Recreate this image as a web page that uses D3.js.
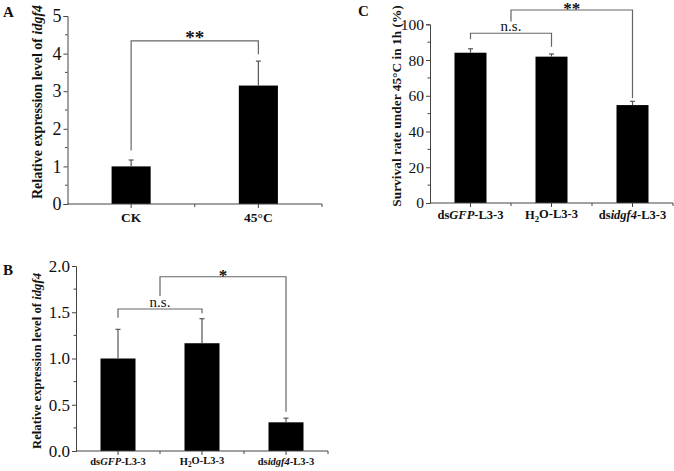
<!DOCTYPE html>
<html>
<head>
<meta charset="utf-8">
<script src="https://cdn.jsdelivr.net/npm/d3@7"></script>
<style>
  html, body { margin: 0; padding: 0; background: #fff; }
  svg { display: block; }
  text { font-family: "Liberation Serif", "Times New Roman", serif; fill: #111; }
</style>
</head>
<body>
<svg id="fig" width="674" height="471"></svg>
<script>
// ---- data ----
// panel A : idgf4 expression, control vs heat
var catsA   = ["CK", "45°C"];
var valsA   = [1.00, 3.15];
var errsA   = [0.17, 0.65];
var ticksA  = [0, 1, 2, 3, 4, 5];

// panel B : idgf4 expression after RNAi
var catsB   = ["dsGFP-L3-3", "H2O-L3-3", "dsidgf4-L3-3"];
var valsB   = [1.00, 1.165, 0.31];
var errsB   = [0.315, 0.265, 0.045];
var ticksB  = [0, 0.5, 1.0, 1.5, 2.0];

// panel C : survival at 45°C
var catsC   = ["dsGFP-L3-3", "H2O-L3-3", "dsidgf4-L3-3"];
var valsC   = [84.1, 81.9, 54.8];
var errsC   = [2.2, 1.5, 2.1];
var ticksC  = [0, 20, 40, 60, 80, 100];

// rich labels (segments: text, style)
var labelsA = [[["CK", ""]], [["45°C", ""]]];
var labelsRNAi = [
	[["ds", ""], ["GFP", "i"], ["-L3-3", ""]],
	[["H", ""], ["2", "sub"], ["O-L3-3", ""]],
	[["ds", ""], ["idgf4", "i"], ["-L3-3", ""]]
];
var yTitleExpr = [["Relative expression level of ", ""], ["idgf4", "i"]];
var yTitleSurv = [["Survival rate under 45°C in 1h (%)", ""]];

// significance brackets: from/to are category positions, levels in data units
var sigA = [{ from: 0, to: 1, level: 4.34, legL: 1.42, legR: 3.98, label: "**" }];
var sigB = [
	{ from: 0, to: 1, level: 1.535, legL: 1.44, legR: 1.49, label: "n.s." },
	{ from: 0.5, to: 2, level: 1.884, legL: 1.676, legR: 0.425, label: "*" }
];
var sigC = [
	{ from: 0, to: 1, level: 95.0, legL: 91.6, legR: 87.5, label: "n.s." },
	{ from: 0.5, to: 2, level: 108, legL: 101.5, legR: 58.6, label: "**" }
];

var svg = d3.select("#fig");

//Write a label made of styled segments into a text element
function richText(textSel, segs) {
	segs.forEach(function (s) {
		var t = textSel.append("tspan").text(s[0]);
		if (s[1] === "i") t.attr("font-style", "italic");
		if (s[1] === "sub") t.attr("font-size", "0.7em").attr("dy", "0.3em");
	});
	// undo subscript shift for following segment
	textSel.selectAll("tspan").each(function (d, i, n) {
		if (i > 0 && segs[i - 1][1] === "sub") d3.select(this).attr("dy", "-0.3em");
	});
}

/*=================================
	ONE PANEL
**===============================*/
function drawPanel(o) {
	var g = svg.append("g");

	var x = d3.scaleBand().domain(o.cats).range([o.x0, o.x1]).padding(0);
	var y = d3.scaleLinear().domain(o.yDomain).range([o.yBase, o.yTop]);
	var step = x.step();
	var bw = step * o.barFrac;
	var cx = function (i) { return o.x0 + step * (i + 0.5); };

	// bars
	g.selectAll("rect.bar").data(o.vals).enter().append("rect")
		.attr("x", function (d, i) { return cx(i) - bw / 2; })
		.attr("y", function (d) { return y(d); })
		.attr("width", bw)
		.attr("height", function (d) { return y(0) - y(d); })
		.attr("fill", "#000");

	// error bars (upper only)
	var eb = g.selectAll("g.err").data(o.vals).enter().append("g")
		.attr("stroke", "#555").attr("stroke-width", 1.2);
	eb.append("line")
		.attr("x1", function (d, i) { return cx(i); })
		.attr("x2", function (d, i) { return cx(i); })
		.attr("y1", function (d) { return y(d); })
		.attr("y2", function (d, i) { return y(d + o.errs[i]); });
	eb.append("line")
		.attr("x1", function (d, i) { return cx(i) - o.cap; })
		.attr("x2", function (d, i) { return cx(i) + o.cap; })
		.attr("y1", function (d, i) { return y(d + o.errs[i]); })
		.attr("y2", function (d, i) { return y(d + o.errs[i]); });

	// y axis
	var yAxis = d3.axisLeft(y).tickValues(o.ticks).tickSize(4).tickPadding(2)
		.tickFormat(o.fmt);
	var ya = g.append("g").attr("transform", "translate(" + o.x0 + ",0)").call(yAxis);
	ya.attr("font-family", null);
	ya.select(".domain").attr("stroke", "#444");
	ya.selectAll(".tick line").attr("stroke", "#444");
	ya.selectAll(".tick text")
		.attr("font-size", o.tickFont).attr("fill", "#222");
	// minor ticks
	g.selectAll("line.minor").data(o.minor).enter().append("line")
		.attr("x1", o.x0).attr("x2", o.x0 - 2.5)
		.attr("y1", function (d) { return y(d); })
		.attr("y2", function (d) { return y(d); })
		.attr("stroke", "#444");

	// x axis line and ticks
	g.append("line").attr("x1", o.x0).attr("x2", o.x1)
		.attr("y1", y(0)).attr("y2", y(0)).attr("stroke", "#444");
	o.cats.forEach(function (c, i) {
		g.append("line").attr("x1", cx(i)).attr("x2", cx(i))
			.attr("y1", y(0)).attr("y2", y(0) + 4).attr("stroke", "#444");
		g.append("line").attr("x1", x(c) + step).attr("x2", x(c) + step)
			.attr("y1", y(0)).attr("y2", y(0) + 3).attr("stroke", "#444");
	});

	// category labels
	o.labels.forEach(function (segs, i) {
		var t = g.append("text").attr("x", cx(i)).attr("y", o.catY)
			.attr("text-anchor", "middle").attr("font-weight", "bold")
			.attr("font-size", o.catFont);
		richText(t, segs);
	});

	// y title
	var yt = g.append("text")
		.attr("transform", "translate(" + o.titleX + "," + o.titleY + ") rotate(-90)")
		.attr("text-anchor", "middle").attr("dominant-baseline", "central")
		.attr("font-weight", "bold").attr("font-size", o.titleFont);
	richText(yt, o.title);

	// panel letter
	g.append("text").attr("x", o.letterX).attr("y", o.letterY)
		.attr("font-weight", "bold").attr("font-size", 15).text(o.letter);

	// significance brackets
	var pos = function (f) { return cx(f); };
	o.sig.forEach(function (s) {
		var xl = pos(s.from), xr = pos(s.to), yl = y(s.level);
		g.append("path")
			.attr("d", "M" + xl + "," + y(s.legL) + "V" + yl + "H" + xr + "V" + y(s.legR))
			.attr("fill", "none").attr("stroke", "#666").attr("stroke-width", 1.2);
		var star = s.label !== "n.s.";
		g.append("text").attr("x", (xl + xr) / 2)
			.attr("y", yl + (star ? o.starDy : -2))
			.attr("text-anchor", "middle")
			.attr("font-weight", star ? "bold" : "normal")
			.attr("font-size", star ? o.starFont : 15)
			.text(s.label);
	});
}

function range(a, b, s) { return d3.range(a, b + s / 2, s); }

drawPanel({
	cats: catsA, vals: valsA, errs: errsA, labels: labelsA,
	ticks: ticksA, minor: range(0.5, 4.5, 1), fmt: d3.format("d"),
	yDomain: [0, 5], x0: 67.5, x1: 322, yBase: 204, yTop: 16,
	barFrac: 39 / 127, cap: 2.5, tickFont: 18, catFont: 13.5, catY: 222,
	title: yTitleExpr, titleX: 37, titleY: 102, titleFont: 14,
	letter: "A", letterX: 3, letterY: 17,
	sig: sigA, starFont: 19, starDy: 3
});

drawPanel({
	cats: catsB, vals: valsB, errs: errsB, labels: labelsRNAi,
	ticks: ticksB, minor: range(0.25, 1.75, 0.5), fmt: d3.format(".1f"),
	yDomain: [0, 2], x0: 76, x1: 328, yBase: 451, yTop: 266,
	barFrac: 35 / 84, cap: 2.5, tickFont: 17, catFont: 10.5, catY: 465,
	title: yTitleExpr, titleX: 37, titleY: 361, titleFont: 12.7,
	letter: "B", letterX: 3, letterY: 275,
	sig: sigB, starFont: 17, starDy: 4
});

drawPanel({
	cats: catsC, vals: valsC, errs: errsC, labels: labelsRNAi,
	ticks: ticksC, minor: range(10, 90, 20), fmt: d3.format("d"),
	yDomain: [0, 100], x0: 430, x1: 673, yBase: 203, yTop: 24.3,
	barFrac: 32 / 81, cap: 2.5, tickFont: 15.5, catFont: 12.5, catY: 219,
	title: yTitleSurv, titleX: 396, titleY: 106, titleFont: 13.4,
	letter: "C", letterX: 358, letterY: 16,
	sig: sigC, starFont: 17, starDy: 4
});
</script>
</body>
</html>
